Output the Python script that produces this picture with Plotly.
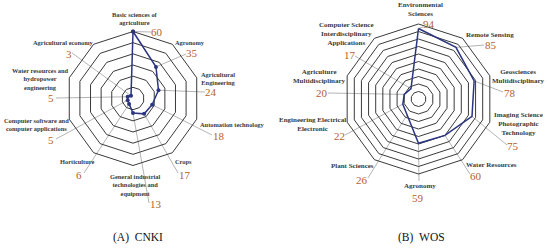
import math
import plotly.graph_objects as go

W, H = 550, 250

# ---------------- data ----------------
cnki_categories = [
    "Basic sciences of<br>agriculture", "Agronomy", "Agricultural<br>Engineering",
    "Automation technology", "Crops",
    "General industrial<br>technologies and<br>equipment", "Horticulture",
    "Computer software and<br>computer applications",
    "Water resources and<br>hydropower<br>engineering", "Agricultural economy",
]
cnki_values = [60, 35, 24, 18, 17, 13, 6, 5, 5, 3]

wos_categories = [
    "Environmental<br>Sciences", "Remote Sensing", "Geosciences<br>Multidisciplinary",
    "Imaging Science<br>Photographic<br>Technology", "Water Resources", "Agronomy",
    "Plant Sciences", "Engineering Electrical<br>Electronic",
    "Agriculture<br>Multidisciplinary",
    "Computer Science<br>Interdisciplinary<br>Applications",
]
wos_values = [94, 85, 78, 75, 60, 59, 26, 22, 20, 17]

captions = ["(A)\u00a0\u00a0CNKI", "(B)\u00a0\u00a0WOS"]

# ---------------- layout (pixel positions) ----------------
panels = [
    dict(cats=cnki_categories, vals=cnki_values, vmax=60, center=(133, 98.5), R=67,
         marker=4, lab_size=6.4, caption=(138, 237),
         lab=[(134.5, 19), (189.5, 43), (218, 78), (232, 124), (183.5, 161),
              (135, 185), (77, 161), (36.5, 124), (40, 79), (63, 43)],
         lab_anchor=["center"] * 10,
         num=[(157, 32), (192, 53), (210.5, 92), (218.5, 136), (184.5, 175),
              (155.5, 204), (79, 175), (51, 140), (51, 98), (68.5, 54)],
         lead=[(151, 32), (186, 54), (205, 92), (212, 135), (178, 173),
               (149, 203), (84, 173), (56, 139), (56, 98), (72, 53)]),
    dict(cats=wos_categories, vals=wos_values, vmax=100, center=(418.5, 99), R=75,
         marker=0, lab_size=7.0, caption=(421.5, 237),
         lab=[(420, 9.5), (489.5, 35), (546, 76), (544, 124), (491, 165),
              (419.5, 186), (352, 166), (312, 124), (319, 76), (346, 34)],
         lab_anchor=["center", "center", "right", "right", "center",
                     "center", "center", "center", "center", "center"],
         num=[(428.5, 24), (490.5, 45), (509.5, 93), (513, 146), (475.5, 176),
              (418, 198), (362, 180), (339.5, 136), (322.5, 93), (349.5, 55)],
         lead=[(423, 27), (484, 45), (503, 92), (507, 145), (470, 174),
               (419, 181), (368, 178), (345, 135), (328, 93), (355, 56)]),
]

LINE_COLOR = "#2b3580"
RING_COLOR = "#3a3a3a"
LEAD_COLOR = "#b4b4b4"
NUM_COLOR = "#b5602e"
LAB_COLOR = "#3a3a3a"
SERIF = "Liberation Serif, Times New Roman, serif"

def px(x, y):
    return x / W, 1 - y / H

fig = go.Figure()
annotations = []
shapes = []

for k, p in enumerate(panels):
    cx, cy = p["center"]
    R = p["R"]
    name = "polar" if k == 0 else "polar2"
    cats = p["cats"]
    vals = p["vals"]
    fig.add_trace(go.Scatterpolar(
        r=vals + vals[:1], theta=cats + cats[:1],
        mode="lines+markers" if p["marker"] else "lines",
        line=dict(color=LINE_COLOR, width=1.5),
        marker=dict(size=p["marker"], color=LINE_COLOR),
        subplot=name, showlegend=False, hoverinfo="skip",
    ))
    fig.update_layout(**{name: dict(
        domain=dict(x=[(cx - R) / W, (cx + R) / W],
                    y=[1 - (cy + R) / H, 1 - (cy - R) / H]),
        gridshape="linear",
        bgcolor="rgba(0,0,0,0)",
        radialaxis=dict(range=[0, p["vmax"]], dtick=10, showline=False,
                        showticklabels=False, ticks="", showgrid=True,
                        gridcolor=RING_COLOR, gridwidth=1),
        angularaxis=dict(direction="clockwise", rotation=90, showline=True,
                         linecolor=RING_COLOR, linewidth=1, showgrid=False,
                         showticklabels=False, ticks=""),
    )})
    n = len(cats)
    for i, (c, v) in enumerate(zip(cats, vals)):
        th = math.radians(i * 360 / n)
        rr = v / p["vmax"] * R
        dx, dy = cx + rr * math.sin(th), cy - rr * math.cos(th)
        ex, ey = p["lead"][i]
        x0, y0 = px(dx, dy)
        x1, y1 = px(ex, ey)
        shapes.append(dict(type="line", xref="paper", yref="paper",
                           x0=x0, y0=y0, x1=x1, y1=y1, layer="below",
                           line=dict(color=LEAD_COLOR, width=1)))
        lx, ly = px(*p["lab"][i])
        annotations.append(dict(x=lx, y=ly, xref="paper", yref="paper", text=f"<b>{c}</b>",
                                showarrow=False, xanchor=p["lab_anchor"][i], yanchor="middle",
                                align="center", borderpad=0,
                                font=dict(family=SERIF, size=p["lab_size"], color=LAB_COLOR)))
        nx, ny = px(*p["num"][i])
        annotations.append(dict(x=nx, y=ny, xref="paper", yref="paper", text=str(v),
                                showarrow=False, xanchor="center", yanchor="middle",
                                borderpad=0,
                                font=dict(family=SERIF, size=11, color=NUM_COLOR)))
    capx, capy = px(*p["caption"])
    annotations.append(dict(x=capx, y=capy, xref="paper", yref="paper", text=captions[k],
                            showarrow=False, xanchor="center", yanchor="middle",
                            font=dict(family=SERIF, size=11.5, color="#111111")))

fig.update_layout(width=W, height=H, margin=dict(l=0, r=0, t=0, b=0),
                  paper_bgcolor="white", plot_bgcolor="white",
                  annotations=annotations, shapes=shapes, showlegend=False)

fig.write_html("out.html",
               config={"displayModeBar": False, "staticPlot": True},
               post_script="document.body.style.margin='0';document.body.style.padding='0';"
                           "document.body.style.overflow='hidden';")
